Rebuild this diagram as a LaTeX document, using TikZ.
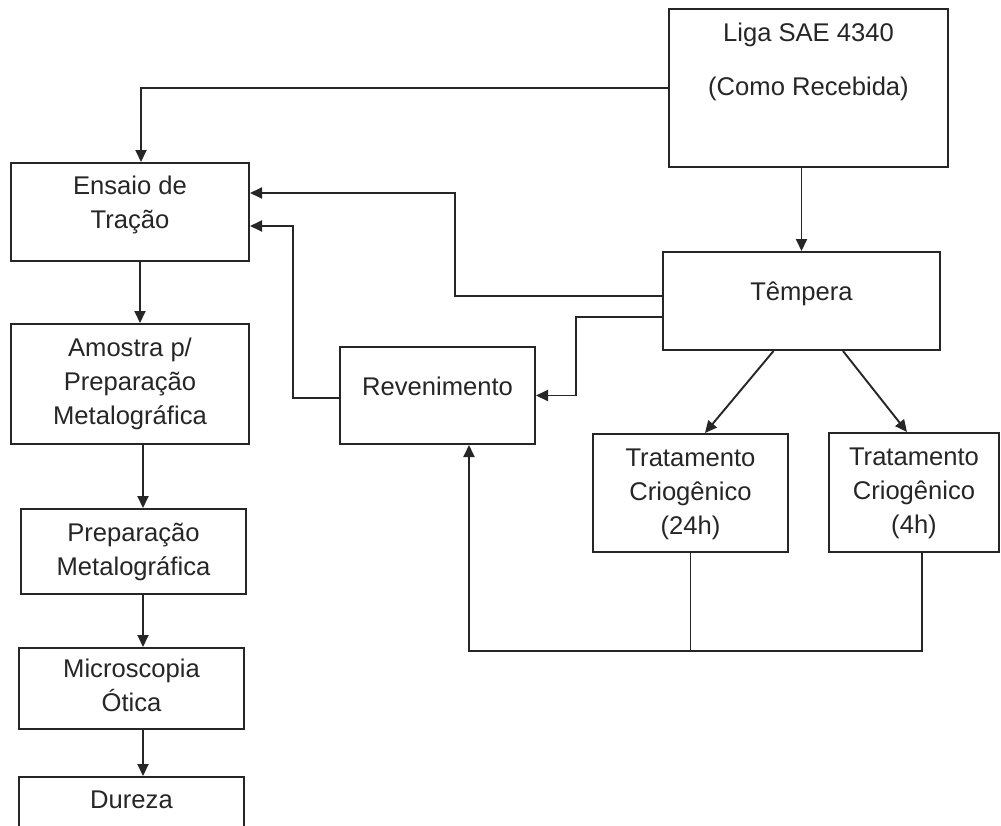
\documentclass[tikz,border=0pt]{standalone}
\usepackage{fontspec}
\setmainfont{Liberation Sans}
\usetikzlibrary{arrows.meta}
\newcommand{\boxtext}[2]{\raisebox{#1}[0pt][0pt]{\begin{tabular}{@{}c@{}}#2\end{tabular}}}
\begin{document}
\begin{tikzpicture}[x=0.5pt,y=-0.5pt,
  font=\fontsize{12.8}{17}\selectfont,text=black!85,
  stage/.style={draw=black!85,line width=1pt,inner sep=0pt},
  link/.style={draw=black!85,line width=0.95pt},
  arr/.style={link,-{Triangle[length=6pt,width=5.5pt]}}]
\clip (0,0) rectangle (1001,825);
\fill[white] (0,0) rectangle (1001,825);
% stages
\node[stage,minimum width=139.5pt,minimum height=79pt] (liga) at (808.5,88) {\boxtext{10.3pt}{Liga SAE 4340\\[10pt](Como Recebida)}};
\node[stage,minimum width=119pt,minimum height=49pt] (ensaio) at (130,212) {\boxtext{0.5pt}{Ensaio de\\Tração}};
\node[stage,minimum width=119pt,minimum height=60pt] (amostra) at (130,384) {\boxtext{-2.7pt}{Amostra p/\\Preparação\\Metalográfica}};
\node[stage,minimum width=112.5pt,minimum height=42.5pt] (prep) at (133.5,551.5) {\boxtext{-3pt}{Preparação\\Metalográfica}};
\node[stage,minimum width=112.5pt,minimum height=40.5pt] (micro) at (131.5,688.5) {\boxtext{-2.7pt}{Microscopia\\Ótica}};
\node[stage,minimum width=112.5pt,minimum height=30pt] (dureza) at (131.5,807) {\boxtext{-0.2pt}{Dureza}};
\node[stage,minimum width=138.5pt,minimum height=49pt] (tempera) at (801.5,301) {\boxtext{0.8pt}{Têmpera}};
\node[stage,minimum width=97.5pt,minimum height=48.5pt] (reven) at (437.5,395.5) {\boxtext{0.3pt}{Revenimento}};
\node[stage,minimum width=97.5pt,minimum height=59pt] (trat24) at (690.5,493) {\boxtext{-3.2pt}{Tratamento\\Criogênico\\(24h)}};
\node[stage,minimum width=85pt,minimum height=59.5pt] (trat4) at (914,492.5) {\boxtext{-3.2pt}{Tratamento\\Criogênico\\(4h)}};
\coordinate (loop) at (469,651);
% connectors
\draw[arr] (liga.west) -| ([xshift=5.5pt]ensaio.north);
\draw[arr] (tempera.north |- liga.south) -- (tempera.north);
\draw[arr] ([yshift=2.5pt]tempera.west) -- ++(-207,0) |- ([yshift=9.5pt]ensaio.east);
\draw[arr] ([yshift=-1.25pt]reven.west) -- ++(-46,0) |- ([yshift=-7pt]ensaio.east);
\draw[arr] ([yshift=-8pt]tempera.west) -- ++(-86,0) |- (reven.east);
\draw[arr] ([xshift=-14pt]tempera.south) -- ([xshift=7.25pt]trat24.north);
\draw[arr] ([xshift=20.75pt]tempera.south) -- ([xshift=-3.5pt]trat4.north);
\draw[link] (trat24.south) -- (trat24.south |- loop);
\draw[arr] ([xshift=4pt]trat4.south) |- (loop) -- (loop |- reven.south);
\foreach \a/\b/\s/\t in {ensaio/amostra/5/5,amostra/prep/6.5/4.75,prep/micro/4.75/5.75,micro/dureza/5.75/5.75}
  \draw[arr] ([xshift=\s pt]\a.south) -- ([xshift=\t pt]\b.north);
\end{tikzpicture}
\end{document}
